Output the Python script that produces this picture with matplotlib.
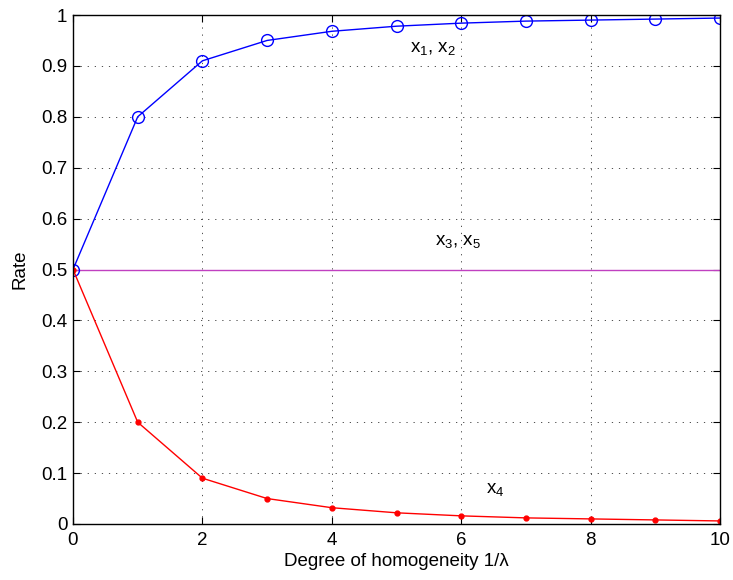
import numpy as np
import matplotlib.pyplot as plt

plt.rcParams['font.family'] = ['Liberation Sans', 'DejaVu Sans']
plt.rcParams['mathtext.fontset'] = 'custom'
plt.rcParams['mathtext.rm'] = 'Liberation Sans'
plt.rcParams['mathtext.it'] = 'Liberation Sans'

lam_inv = [0, 1, 2, 3, 4, 5, 6, 7, 8, 9, 10]
rate_x12 = [0.5, 0.8, 0.91, 0.95, 0.968, 0.978, 0.984, 0.988, 0.990, 0.992, 0.994]
rate_x35 = [0.5, 0.5, 0.5, 0.5, 0.5, 0.5, 0.5, 0.5, 0.5, 0.5, 0.5]
rate_x4 = [0.5, 0.2, 0.09, 0.05, 0.032, 0.022, 0.016, 0.012, 0.010, 0.008, 0.006]
ytick_vals = [0, 0.1, 0.2, 0.3, 0.4, 0.5, 0.6, 0.7, 0.8, 0.9, 1]
ytick_labels = ['0', '0.1', '0.2', '0.3', '0.4', '0.5', '0.6', '0.7', '0.8', '0.9', '1']

fig = plt.figure(figsize=(7.33, 5.8), dpi=100)
ax = fig.add_axes([73/733, 1 - 524/580, 647/733, 509/580])

ax.plot(lam_inv, rate_x35, color='#c040c0', lw=1)
ax.plot(lam_inv, rate_x12, color='blue', lw=1, marker='o', ms=8.5, mfc='none', mew=1)
ax.plot(lam_inv, rate_x4, color='red', lw=1, marker='.', ms=7)

fs = 13.5
ax.text(5.21, 0.927, r'x$_1$, x$_2$', fontsize=fs, va='baseline')
ax.text(5.6, 0.548, r'x$_3$, x$_5$', fontsize=fs, va='baseline')
ax.text(6.38, 0.061, r'x$_4$', fontsize=fs, va='baseline')

ax.set_xlim(0, 10)
ax.set_ylim(0, 1)
ax.set_xticks(range(0, 11, 2))
ax.set_yticks(ytick_vals)
ax.set_yticklabels(ytick_labels)
ax.tick_params(direction='in', labelsize=fs, length=5, top=True, right=True)
ax.tick_params(axis='x', pad=6)
ax.tick_params(axis='y', pad=4)
ax.grid(True, linestyle=(0, (1.5, 7)), color='#333333', lw=0.6)
for s in ax.spines.values():
    s.set_linewidth(1)

ax.set_xlabel('Degree of homogeneity 1/λ', fontsize=fs, labelpad=3)
ax.set_ylabel('Rate', fontsize=fs, labelpad=9)

fig.savefig('out.png', dpi=100)
